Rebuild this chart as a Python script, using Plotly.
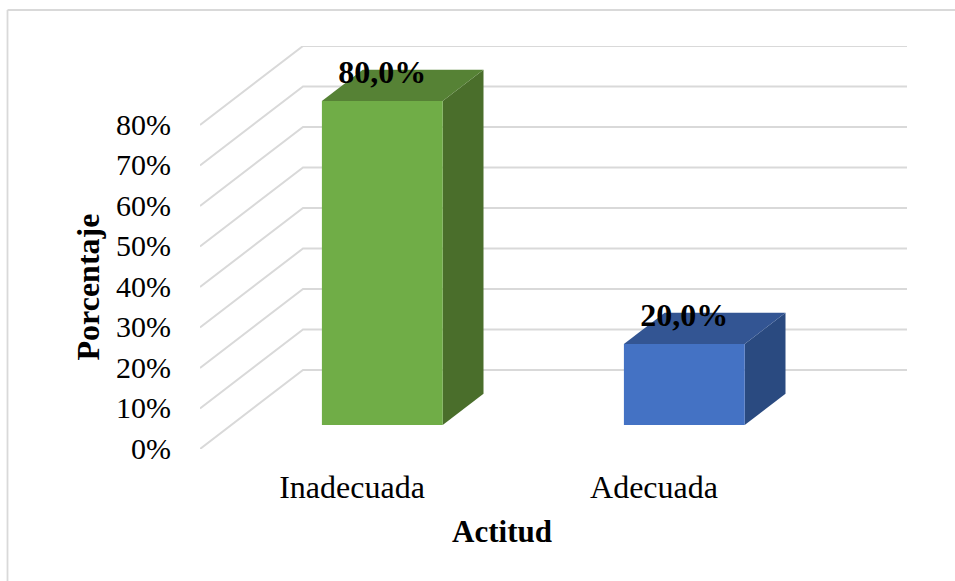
import plotly.graph_objects as go

categories = ["Inadecuada", "Adecuada"]
values = [80, 20]
labels = ["80,0%", "20,0%"]
tick_values = [0, 10, 20, 30, 40, 50, 60, 70, 80]
tick_labels = ["0%", "10%", "20%", "30%", "40%", "50%", "60%", "70%", "80%"]

FRONT = ["#70AD47", "#4472C4"]
TOP = ["#568235", "#335593"]
SIDE = ["#4A6E2B", "#2A4A80"]
GRID = "#D9D9D9"
SERIF = "Liberation Serif"

W, H = 955, 581
L, R, T, B = 200, 48, 46, 132          # outer plot box, including the depth of the walls
FRONT_W, FRONT_H = 604, 324            # front plane of the 3D box in pixels
plot_w, plot_h = W - L - R, H - T - B

# oblique projection: depth 0..1 shifts a point right and upward
DEPTH_X = 103 / 302      # category units
DEPTH_Y = 79 / 4.05      # percent units
BAR_NEAR, BAR_FAR = 0.304, 0.70
BAR_W = 0.40


def proj(x, v, d):
    return x + d * DEPTH_X, v + d * DEPTH_Y


fig = go.Figure()

# invisible carrier of the real axes (front plane)
fig.add_trace(go.Scatter(x=[0, 1], y=values, mode="markers", marker=dict(opacity=0, size=1),
                         xaxis="x", yaxis="y", hoverinfo="skip"))

# side wall + back wall gridlines
gx, gy = [], []
for v in tick_values:
    for x, d in ((-0.5, 0), (-0.5, 1), (1.5, 1)):
        px, py = proj(x, v, d)
        gx.append(px)
        gy.append(py)
    gx.append(None)
    gy.append(None)
fig.add_trace(go.Scatter(x=gx, y=gy, mode="lines", xaxis="x2", yaxis="y2",
                         line=dict(color=GRID, width=2), hoverinfo="skip"))


def poly(points, color):
    xs = [p[0] for p in points]
    ys = [p[1] for p in points]
    fig.add_trace(go.Scatter(x=xs + xs[:1], y=ys + ys[:1], mode="lines", fill="toself",
                             fillcolor=color, line=dict(color=color, width=0),
                             xaxis="x2", yaxis="y2", hoverinfo="skip"))


for i, v in enumerate(values):
    x0, x1 = i - BAR_W / 2, i + BAR_W / 2
    poly([proj(x1, 0, BAR_NEAR), proj(x1, 0, BAR_FAR), proj(x1, v, BAR_FAR), proj(x1, v, BAR_NEAR)], SIDE[i])
    poly([proj(x0, v, BAR_NEAR), proj(x1, v, BAR_NEAR), proj(x1, v, BAR_FAR), proj(x0, v, BAR_FAR)], TOP[i])
    poly([proj(x0, 0, BAR_NEAR), proj(x1, 0, BAR_NEAR), proj(x1, v, BAR_NEAR), proj(x0, v, BAR_NEAR)], FRONT[i])

# data labels
lx, ly = [], []
for i, v in enumerate(values):
    px, py = proj(i, v, BAR_NEAR)
    lx.append(px)
    ly.append(py + 26 / 4.05)
fig.add_trace(go.Scatter(x=lx, y=ly, mode="text", text=["<b>%s</b>" % t for t in labels],
                         textposition="middle center", xaxis="x2", yaxis="y2", hoverinfo="skip",
                         textfont=dict(family=SERIF, size=32, color="#000000")))


def paper_x(px):
    return (px - L) / plot_w


def paper_y(py):
    return (H - B - py) / plot_h


# outer frame (only the top and left edges are inside the picture)
frame = dict(type="line", xref="paper", yref="paper", line=dict(color=GRID, width=1.8))
fig.add_shape(x0=paper_x(7.5), x1=paper_x(W), y0=paper_y(10), y1=paper_y(10), **frame)
fig.add_shape(x0=paper_x(7.5), x1=paper_x(7.5), y0=paper_y(10), y1=paper_y(H), **frame)

fig.update_layout(
    width=W, height=H, showlegend=False,
    margin=dict(l=L, r=R, t=T, b=B, pad=0),
    paper_bgcolor="#FFFFFF", plot_bgcolor="rgba(0,0,0,0)",
    font=dict(family=SERIF, color="#000000"),
    xaxis=dict(domain=[0, FRONT_W / plot_w], range=[-0.5, 1.5], tickmode="array", tickvals=[0, 1],
               ticktext=categories, showgrid=False, zeroline=False, showline=False, ticks="",
               ticklabelstandoff=16, ticklabelshift=1, anchor="y",
               tickfont=dict(family=SERIF, size=32, color="#000000"),
               title=dict(text="<b>Actitud</b>", standoff=16,
                          font=dict(family=SERIF, size=31, color="#000000"))),
    yaxis=dict(domain=[0, FRONT_H / plot_h], range=[0, 80], tickmode="array", tickvals=tick_values,
               ticktext=tick_labels, showgrid=False, zeroline=False, showline=False, ticks="",
               ticklabelstandoff=28, ticklabelshift=-1, anchor="x",
               tickfont=dict(family=SERIF, size=30, color="#000000"),
               title=dict(text="<b>Porcentaje</b>", standoff=6,
                          font=dict(family=SERIF, size=32, color="#000000"))),
    xaxis2=dict(domain=[0, 1], range=[-0.5, 1.5 + DEPTH_X], visible=False, anchor="y2"),
    yaxis2=dict(domain=[0, 1], range=[0, 80 + DEPTH_Y], visible=False, anchor="x2"),
)

fig.write_html("out.html", config=dict(displayModeBar=False),
               post_script="document.body.style.margin='0';window.dispatchEvent(new Event('resize'));")
